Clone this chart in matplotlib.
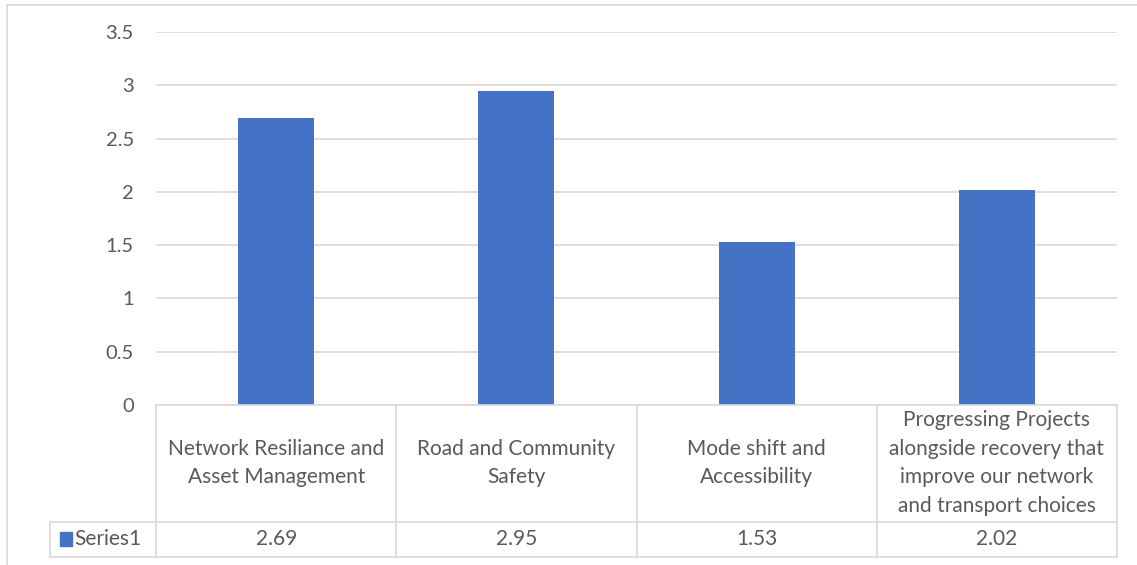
import matplotlib.pyplot as plt
from matplotlib.patches import Rectangle

# Chart data
categories = [
    "Network Resiliance and\nAsset Management",
    "Road and Community\nSafety",
    "Mode shift and\nAccessibility",
    "Progressing Projects\nalongside recovery that\nimprove our network\nand transport choices",
]
series_name = "Series1"
values = [2.69, 2.95, 1.53, 2.02]
yticks = [0, 0.5, 1, 1.5, 2, 2.5, 3, 3.5]

bar_color = "#4472C4"
text_color = "#595959"
grid_color = "#D9D9D9"

plt.rcParams["font.family"] = ["Lato", "DejaVu Sans"]

W, H = 1137, 565
fig = plt.figure(figsize=(W / 100, H / 100), dpi=100)


def box(x0, y0, x1, y1):
    # pixel box (top-left origin) -> figure fraction rect
    return [x0 / W, 1 - y1 / H, (x1 - x0) / W, (y1 - y0) / H]


# Chart border
fig.add_artist(Rectangle((7 / W, -0.1), 1.2, 1 - 5 / H + 0.1, transform=fig.transFigure,
                         fill=False, edgecolor=grid_color, lw=1.2))

# Bar plot
ax = fig.add_axes(box(156, 32, 1117, 405))
x = list(range(len(values)))
ax.bar(x, values, width=0.317, color=bar_color, zorder=3)
ax.set_xlim(-0.5, len(values) - 0.5)
ax.set_ylim(0, 3.5)
ax.set_yticks(yticks)
ax.set_yticklabels([f"{t:g}" for t in yticks])
ax.set_xticks([])
ax.grid(axis="y", color=grid_color, lw=1.2, zorder=0)
for s in ax.spines.values():
    s.set_visible(False)
ax.tick_params(axis="y", length=0, pad=16, labelsize=14.5, labelcolor=text_color)

# Data table below the bars
tab = fig.add_axes(box(50, 405, 1117, 557))
left = -0.5 - 106 / 240
tab.set_xlim(left, len(values) - 0.5)
tab.set_ylim(152, 0)
tab.axis("off")
lc = dict(color=grid_color, lw=1.2, clip_on=False)
tab.plot([-0.5, len(values) - 0.5], [0, 0], **lc)
tab.plot([left, len(values) - 0.5], [117, 117], **lc)
tab.plot([left, len(values) - 0.5], [152, 152], **lc)
tab.plot([left, left], [117, 152], **lc)
for i in range(len(values) + 1):
    tab.plot([i - 0.5, i - 0.5], [0, 152], **lc)

for i, (cat, v) in enumerate(zip(categories, values)):
    tab.text(i, 58, cat, ha="center", va="center", fontsize=15,
             color=text_color, linespacing=1.55)
    tab.text(i, 134, f"{v:.2f}", ha="center", va="center", fontsize=15,
             color=text_color)

# Legend key in the table
tab.add_patch(Rectangle((left + 10 / 240, 127), 12 / 240, 14, color=bar_color, clip_on=False))
tab.text(left + 24 / 240, 134, series_name, ha="left", va="center", fontsize=15,
         color=text_color)

fig.savefig("out.png", dpi=100)
